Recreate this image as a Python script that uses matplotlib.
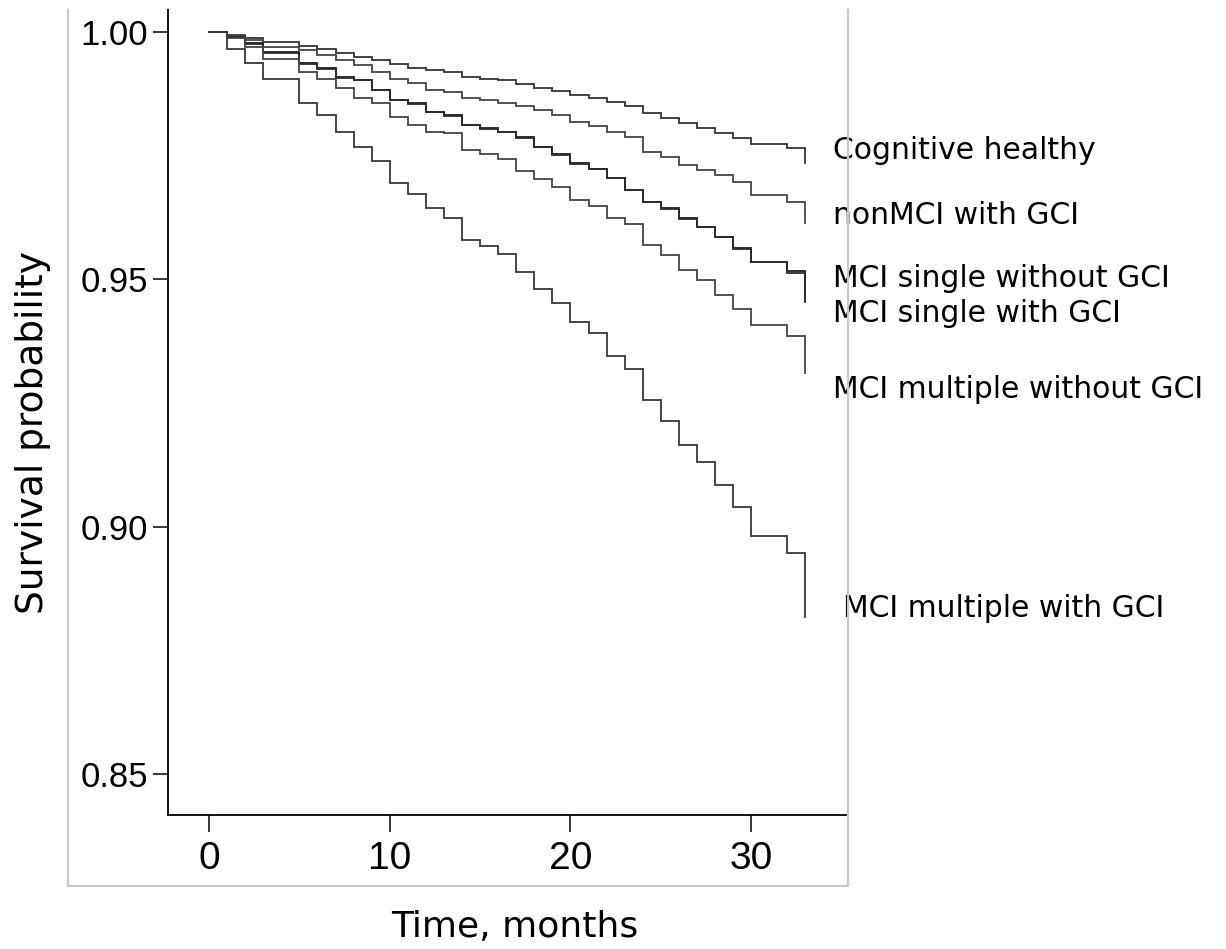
import matplotlib
matplotlib.use('Agg')
import matplotlib.pyplot as plt
from matplotlib.lines import Line2D

# ---------------- data ----------------
months = list(range(34))

cognitive_healthy = [1.0000, 0.9994, 0.9987, 0.9980, 0.9980, 0.9972, 0.9965, 0.9957, 0.9949, 0.9943,
                     0.9935, 0.9928, 0.9923, 0.9920, 0.9910, 0.9906, 0.9903, 0.9894, 0.9886, 0.9881,
                     0.9873, 0.9866, 0.9859, 0.9850, 0.9836, 0.9826, 0.9816, 0.9806, 0.9796, 0.9786,
                     0.9774, 0.9774, 0.9765, 0.9735]
nonmci_with_gci = [1.0000, 0.9992, 0.9984, 0.9970, 0.9970, 0.9964, 0.9954, 0.9943, 0.9933, 0.9920,
                   0.9906, 0.9896, 0.9883, 0.9879, 0.9866, 0.9863, 0.9856, 0.9850, 0.9842, 0.9832,
                   0.9819, 0.9809, 0.9798, 0.9788, 0.9758, 0.9748, 0.9731, 0.9721, 0.9711, 0.9697,
                   0.9670, 0.9670, 0.9657, 0.9613]
mci_single_without_gci = [1.0000, 0.9990, 0.9978, 0.9960, 0.9960, 0.9937, 0.9927, 0.9910, 0.9903, 0.9883,
                          0.9863, 0.9856, 0.9839, 0.9832, 0.9812, 0.9805, 0.9798, 0.9787, 0.9768, 0.9753,
                          0.9735, 0.9724, 0.9705, 0.9681, 0.9657, 0.9644, 0.9623, 0.9606, 0.9586, 0.9563,
                          0.9536, 0.9536, 0.9517, 0.9458]
mci_single_with_gci = [1.0000, 0.9990, 0.9976, 0.9958, 0.9958, 0.9935, 0.9926, 0.9908, 0.9902, 0.9882,
                       0.9862, 0.9855, 0.9838, 0.9830, 0.9811, 0.9804, 0.9797, 0.9785, 0.9767, 0.9752,
                       0.9734, 0.9723, 0.9704, 0.9680, 0.9656, 0.9643, 0.9622, 0.9605, 0.9585, 0.9562,
                       0.9535, 0.9535, 0.9512, 0.9455]
mci_multiple_without_gci = [1.0000, 0.9988, 0.9970, 0.9945, 0.9945, 0.9920, 0.9906, 0.9886, 0.9866, 0.9856,
                            0.9829, 0.9812, 0.9798, 0.9795, 0.9761, 0.9753, 0.9744, 0.9720, 0.9703, 0.9687,
                            0.9661, 0.9649, 0.9623, 0.9612, 0.9569, 0.9549, 0.9519, 0.9499, 0.9468, 0.9441,
                            0.9408, 0.9408, 0.9385, 0.9311]
mci_multiple_with_gci = [1.0000, 0.9965, 0.9937, 0.9906, 0.9906, 0.9856, 0.9832, 0.9797, 0.9768, 0.9740,
                         0.9695, 0.9673, 0.9644, 0.9623, 0.9580, 0.9567, 0.9551, 0.9515, 0.9480, 0.9452,
                         0.9414, 0.9391, 0.9344, 0.9318, 0.9256, 0.9214, 0.9165, 0.9131, 0.9084, 0.9040,
                         0.8981, 0.8981, 0.8946, 0.8818]

group_names = ["Cognitive healthy", "nonMCI with GCI", "MCI single without GCI",
               "MCI single with GCI", "MCI multiple without GCI", "MCI multiple with GCI"]
series = [cognitive_healthy, nonmci_with_gci, mci_single_without_gci,
          mci_single_with_gci, mci_multiple_without_gci, mci_multiple_with_gci]

x_ticks = [0, 10, 20, 30]
y_ticks = [0.85, 0.90, 0.95, 1.00]
y_tick_labels = ["0.85", "0.90", "0.95", "1.00"]

# ---------------- layout / style ----------------
label_x = [34.55, 34.55, 34.55, 34.55, 34.55, 35.1]
label_y = [0.9743, 0.9612, 0.9485, 0.9414, 0.9260, 0.8818]
line_colors = ['#333333', '#444444', '#1e1e1e', '#2c2c2c', '#444444', '#383838']

W, H = 1226, 949
fig = plt.figure(figsize=(W / 100, H / 100), dpi=100)
ax = fig.add_axes([168 / W, 1 - 815 / H, 680 / W, 805 / H])

for vals, col in zip(series, line_colors):
    ax.step(months, vals, where='post', color=col, lw=1.3, solid_joinstyle='miter')

ax.set_xlim(-2.27, 35.36)
ax.set_ylim(0.8417, 1.00445)

ax.set_xticks(x_ticks)
ax.set_xticklabels([str(t) for t in x_ticks], fontfamily='Liberation Sans', fontsize=28)
ax.set_yticks(y_ticks)
ax.set_yticklabels(y_tick_labels, fontfamily='Liberation Sans', fontsize=25)
ax.tick_params(axis='y', length=11, width=1.1, pad=3.5, color='black')
ax.tick_params(axis='x', length=12, width=1.1, pad=7, color='black')

for s in ['top', 'right']:
    ax.spines[s].set_visible(False)
for s in ['left', 'bottom']:
    ax.spines[s].set_linewidth(1.3)
    ax.spines[s].set_color('black')

# light grey frame (open at the top)
fig.add_artist(Line2D([68 / W, 68 / W, 848 / W, 848 / W],
                      [1 - 10 / H, 1 - 886 / H, 1 - 886 / H, 1 - 10 / H],
                      transform=fig.transFigure, color='#c8c8c8', lw=1.6))

for name, lx, ly in zip(group_names, label_x, label_y):
    ax.text(lx, ly, name, ha='left', va='baseline', fontsize=21.5,
            fontfamily='DejaVu Sans', clip_on=False)

fig.text(515 / W, 1 - 937 / H, 'Time, months', ha='center', va='baseline', fontsize=26,
         fontfamily='DejaVu Sans')
fig.text(33 / W, 1 - 432 / H, 'Survival probability', rotation=90, ha='center', va='center',
         fontsize=27, fontfamily='DejaVu Sans')

fig.savefig('out.png', dpi=100)
